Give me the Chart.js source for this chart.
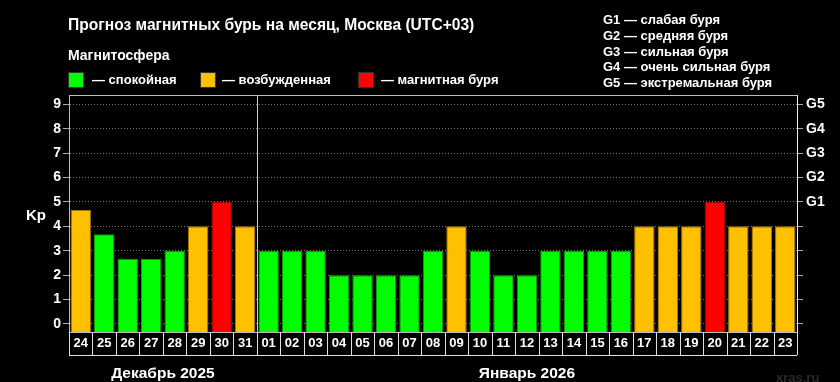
<!DOCTYPE html>
<html>
<head>
<meta charset="utf-8">
<script src="https://cdn.jsdelivr.net/npm/chart.js@4.4.1/dist/chart.umd.min.js"></script>
<style>
  html, body { margin: 0; padding: 0; background: #000; }
  #wrap { position: relative; width: 840px; height: 382px; overflow: hidden; font-family: "Liberation Sans", Arial, sans-serif; color: #fff; }
  #wrap canvas { position: absolute; left: 0; top: 0; }
  .txt { position: absolute; white-space: nowrap; }
  .title { left: 68px; top: 16px; font: bold 15.6px/18px "Liberation Sans", Arial, sans-serif; }
  .sub { left: 68px; top: 46px; font: bold 14px/18px "Liberation Sans", Arial, sans-serif; }
  .sw { position: absolute; top: 72px; width: 14px; height: 14px; border: 1px solid #333; }
  .lg { top: 71px; font: bold 13px/18px "Liberation Sans", Arial, sans-serif; }
  .glist { left: 603px; top: 12px; font: bold 13px/15.8px "Liberation Sans", Arial, sans-serif; }
  .kp { left: 26px; top: 206px; font: bold 15px/18px "Liberation Sans", Arial, sans-serif; }
  .mark { left: 776px; top: 370px; font: bold 13px/16px "Liberation Sans", Arial, sans-serif; color: #2a2a2a; }
</style>
</head>
<body>
<div id="wrap">
  <canvas id="kp-chart" width="840" height="382"></canvas>
  <div class="txt title">Прогноз магнитных бурь на месяц, Москва (UTC+03)</div>
  <div class="txt sub">Магнитосфера</div>
  <div class="sw" style="left:68px;background:#00ff00"></div>
  <div class="txt lg" style="left:92px">— спокойная</div>
  <div class="sw" style="left:200px;background:#ffc000"></div>
  <div class="txt lg" style="left:222px">— возбужденная</div>
  <div class="sw" style="left:358px;background:#ff0000"></div>
  <div class="txt lg" style="left:381px">— магнитная буря</div>
  <div class="txt glist">G1 — слабая буря<br>G2 — средняя буря<br>G3 — сильная буря<br>G4 — очень сильная буря<br>G5 — экстремальная буря</div>
  <div class="txt kp">Kp</div>
  <div class="txt mark">xras.ru</div>
</div>
<script>
// --- data ---
const days = ['24','25','26','27','28','29','30','31',
  '01','02','03','04','05','06','07','08','09','10','11','12','13','14','15','16',
  '17','18','19','20','21','22','23'];
const kpValues = [4.67,3.67,2.67,2.67,3,4,5,4,
  3,3,3,2,2,2,2,3,4,3,2,2,3,3,3,3,
  4,4,4,5,4,4,4];
const monthLabels = ['Декабрь 2025', 'Январь 2026'];
const monthStart = [0, 8];           // first day index of each month
const kpTicks = [0,1,2,3,4,5,6,7,8,9];
const gLabels = ['','','','','','G1','G2','G3','G4','G5'];

const Y_MIN = -0.33, Y_MAX = 9.38;
const FONT = '"Liberation Sans", Arial, sans-serif';

function barColor(v) { return v >= 5 ? '#ff0000' : v >= 4 ? '#ffc000' : '#00ff00'; }
function barEdge(v) { return v >= 5 ? '#a00000' : v >= 4 ? '#a07800' : '#109a10'; }

// cells under the bars, month divider, month names, frame
const extras = {
  id: 'extras',
  afterDraw(chart) {
    const c = chart.ctx, a = chart.chartArea, x = chart.scales.x;
    const step = x.getPixelForValue(1) - x.getPixelForValue(0);
    const edge = i => x.getPixelForValue(i) - step / 2;
    c.save();
    // frame top
    c.strokeStyle = '#bbb'; c.lineWidth = 1;
    c.beginPath(); c.moveTo(a.left, a.top + 0.5); c.lineTo(a.right, a.top + 0.5); c.stroke();
    // divider between months
    c.strokeStyle = '#ccc';
    const dx = Math.round(edge(monthStart[1])) + 0.5;
    c.beginPath(); c.moveTo(dx, a.top); c.lineTo(dx, a.bottom); c.stroke();
    // label cells
    const cb = a.bottom + 23;
    c.strokeStyle = '#e0e0e0';
    c.beginPath();
    for (let i = 0; i <= days.length; i++) {
      const ex = Math.round(edge(i)) + 0.5;
      c.moveTo(ex, a.bottom); c.lineTo(ex, cb);
    }
    c.moveTo(edge(0), cb + 0.5); c.lineTo(edge(days.length), cb + 0.5);
    c.stroke();
    // month names
    c.fillStyle = '#fff'; c.font = 'bold 15.5px ' + FONT;
    c.textAlign = 'center'; c.textBaseline = 'middle';
    monthLabels.forEach((m, k) => {
      const s = monthStart[k], e = k + 1 < monthStart.length ? monthStart[k + 1] : days.length;
      c.fillText(m, (edge(s) + edge(e)) / 2, a.bottom + 42);
    });
    c.restore();
  }
};

new Chart(document.getElementById('kp-chart'), {
  type: 'bar',
  data: {
    labels: days,
    datasets: [{
      data: kpValues,
      base: Y_MIN,
      backgroundColor: kpValues.map(barColor),
      borderColor: kpValues.map(barEdge),
      borderWidth: 1,
      categoryPercentage: 1,
      barPercentage: 0.87,
      yAxisID: 'y'
    }]
  },
  options: {
    responsive: false,
    animation: false,
    devicePixelRatio: 1,
    layout: { padding: { top: 95, left: 0, right: 0, bottom: 0 } },
    plugins: { legend: { display: false }, tooltip: { enabled: false } },
    scales: {
      x: {
        grid: { display: false, drawTicks: false },
        border: { color: '#bbb' },
        ticks: { color: '#fff', font: { family: FONT, size: 13, weight: 'bold' }, padding: 4, maxRotation: 0, autoSkip: false },
        afterFit(s) { s.height = 50; }
      },
      y: {
        position: 'left', min: Y_MIN, max: Y_MAX,
        afterBuildTicks(s) { s.ticks = kpTicks.map(v => ({ value: v })); },
        grid: { color: '#777', tickColor: '#aaa', tickBorderDash: [], tickLength: 6 },
        border: { color: '#bbb', dash: [1, 2] },
        ticks: { color: '#fff', font: { family: FONT, size: 14, weight: 'bold' }, padding: 2 },
        afterFit(s) { s.width = 69; }
      },
      y2: {
        position: 'right', min: Y_MIN, max: Y_MAX,
        afterBuildTicks(s) { s.ticks = kpTicks.map(v => ({ value: v })); },
        grid: { drawOnChartArea: false, tickColor: '#aaa', tickLength: 6 },
        border: { color: '#eee' },
        ticks: { color: '#fff', font: { family: FONT, size: 14, weight: 'bold' }, padding: 3, callback: (v, i) => gLabels[i] },
        afterFit(s) { s.width = 43; }
      }
    }
  },
  plugins: [extras]
});
</script>
</body>
</html>
